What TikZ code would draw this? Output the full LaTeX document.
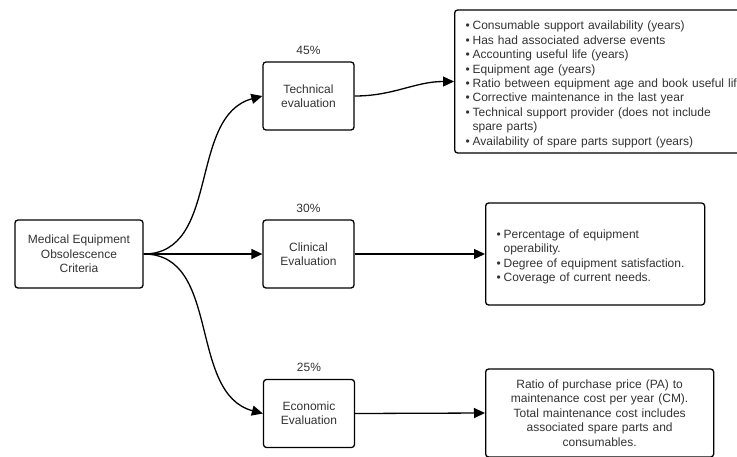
\documentclass[tikz,border=0pt]{standalone}
\usepackage{fontspec}
\setmainfont{Liberation Sans}
\usetikzlibrary{arrows.meta,positioning}
\newcommand{\bitem}[1]{\par\hangindent=7pt\hangafter=1\noindent\makebox[7pt][l]{\textbullet}#1}

\begin{document}
\begin{tikzpicture}[x=1pt, y=1pt, >={Triangle[length=11pt,width=10pt]}, line width=1.3pt, every node/.style={font=\fontsize{12}{14.4}\selectfont, text=black!80}, box/.style={draw=black, rounded corners=3pt, align=center, minimum width=91pt, minimum height=68pt, inner sep=2pt}, listbox/.style={draw=black, rounded corners=3pt, anchor=west, inner xsep=11pt}]
\useasboundingbox (0,0) rectangle (737,-456);
\clip (0,0) rectangle (737,-456);
\node[box, minimum width=128pt] (crit) at (79,-254) {Medical Equipment\\Obsolescence\\Criteria};
\node[box] (tech) at (308.5,-96) {Technical\\evaluation};
\node[box] (clin) at (308.5,-254) {Clinical\\Evaluation};
\node[box] (econ) at (309,-413.5) {Economic\\Evaluation};
\node[above=3pt of tech] (techpct) {45\%};
\node[above=3pt of clin] (clinpct) {30\%};
\node[above=3pt of econ] (econpct) {25\%};
\node[listbox, align=left, text width=290pt, minimum height=143pt] (techlist) at (454,-81.5) {\bitem{Consumable support availability (years)}\bitem{Has had associated adverse events}\bitem{Accounting useful life (years)}\bitem{Equipment age (years)}\bitem{Ratio between equipment age and book useful life}\bitem{Corrective maintenance in the last year}\bitem{Technical support provider (does not include\hfil\break spare parts)}\bitem{Availability of spare parts support (years)}};
\node[listbox, align=left, text width=197pt, minimum height=102pt] (clinlist) at (485,-254) {\bitem{Percentage of equipment\hfil\break operability.}\bitem{Degree of equipment satisfaction.}\bitem{Coverage of current needs.}};
\node[listbox, align=center, text width=206pt, minimum height=88pt] (econlist) at (485,-413) {Ratio of purchase price (PA) to\\maintenance cost per year (CM).\\Total maintenance cost includes\\associated spare parts and\\consumables.};
\draw[->] (crit.east) to[out=0, in=195] (tech.west);
\draw[->] (crit.east) -- (clin.west);
\draw[->] (crit.east) to[out=0, in=165] (econ.west);
\draw[->] (tech.east) to[out=0, in=180] (techlist.west);
\draw[->] (clin.east) -- (clinlist.west);
\draw[->] (econ.east) -- (econlist.west);
\end{tikzpicture}
\end{document}
